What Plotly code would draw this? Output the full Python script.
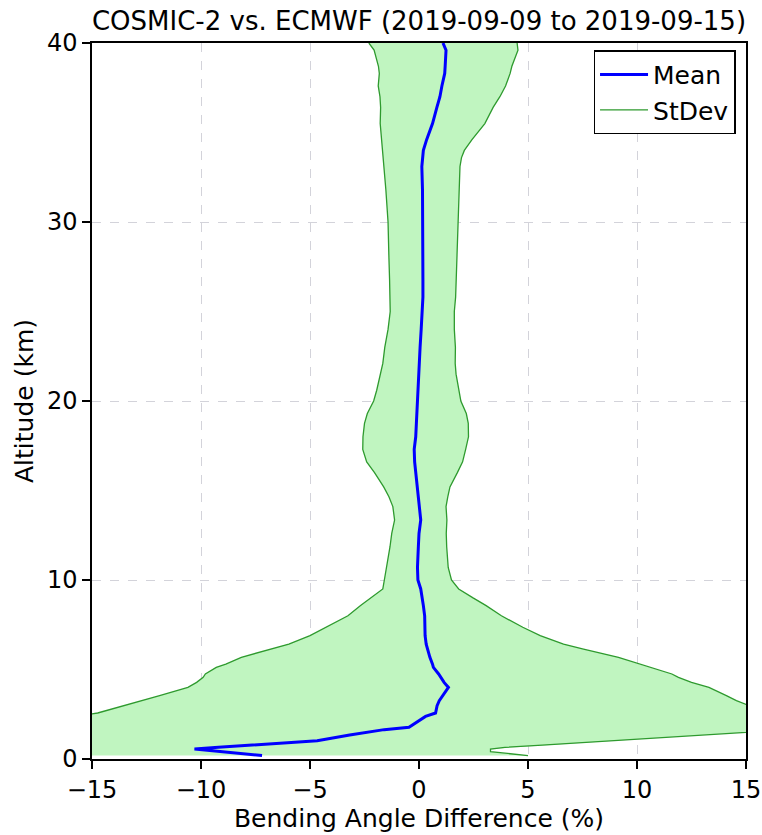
import plotly.graph_objects as go

# Altitude levels (km)
altitude = [0.19, 0.41, 0.56, 0.65, 0.78, 1.02, 1.34, 1.49, 1.64, 1.77,
            2.05, 2.38, 2.57, 2.98, 3.26, 3.54, 4.0, 4.28, 4.56, 4.75,
            5.12, 5.3, 5.68, 6.15, 6.42, 6.89, 7.36, 8.0, 8.57, 9.0,
            9.5, 10.0, 10.7, 11.86, 12.6, 13.35, 14.1, 14.65, 15.2, 16.0,
            16.6, 17.3, 18.0, 18.75, 19.3, 20.0, 20.6, 21.5, 22.1,
            23.0, 24.0, 25.0, 25.8, 26.8, 28.0, 30.0, 31.8, 33.1, 33.6,
            34.0, 34.6, 35.5, 36.4, 37.0, 37.6, 38.3, 38.7, 39.6, 40.0]

# Mean bending angle difference (%)
mean_diff = [-7.2, -9.0, -10.3, -9.2, -7.55, -4.67, -3.18, -2.4, -1.6, -0.46,
             -0.1, 0.3, 0.76, 0.83, 0.93, 1.1, 1.35, 1.15, 1.0, 0.9,
             0.66, 0.62, 0.5, 0.37, 0.33, 0.28, 0.26, 0.26, 0.2, 0.14,
             0.08, -0.05, -0.07, -0.03, 0.0, 0.08, 0.02, -0.03, -0.1, -0.14,
             -0.2, -0.22, -0.15, -0.12, -0.1, -0.08, -0.06, -0.03, 0.0,
             0.05, 0.1, 0.15, 0.18, 0.18, 0.18, 0.18, 0.16, 0.13, 0.15,
             0.2, 0.35, 0.62, 0.82, 0.96, 1.05, 1.18, 1.2, 1.24, 1.1]

# Standard deviation of the difference (%)
std_diff = [12.2, 12.28, 13.58, 13.14, 13.2, 13.48, 16.2, 17.4, 17.5, 17.2,
            16.7, 16.1, 15.5, 14.33, 13.63, 13.0, 11.95, 11.35, 10.9, 10.7,
            9.96, 9.48, 8.65, 7.13, 6.3, 5.28, 4.5, 3.52, 2.88, 2.34,
            1.74, 1.54, 1.41, 1.3, 1.25, 1.2, 1.22, 1.35, 1.52, 1.9,
            2.2, 2.36, 2.42, 2.38, 2.27, 2.0, 1.88, 1.73, 1.66,
            1.62, 1.52, 1.47, 1.5, 1.53, 1.56, 1.6, 1.68, 1.75, 1.8,
            1.88, 2.08, 2.4, 2.58, 2.75, 2.92, 3.0, 3.06, 3.3, 3.4]

x_ticks = [-15, -10, -5, 0, 5, 10, 15]
y_ticks = [0, 10, 20, 30, 40]
x_tick_text = ["\u221215", "\u221210", "\u22125", "0", "5", "10", "15"]

lower = [m - s for m, s in zip(mean_diff, std_diff)]
upper = [m + s for m, s in zip(mean_diff, std_diff)]

FILL = "#c0f5c0"
EDGE = "#2e9a2e"
FONT = "DejaVu Sans"

fig = go.Figure()

# shaded +/- 1 std band as a closed polygon
fig.add_trace(go.Scatter(
    x=lower + upper[::-1], y=altitude + altitude[::-1],
    fill="toself", fillcolor=FILL, line=dict(width=0),
    mode="lines", hoverinfo="skip", showlegend=False))

# band edges
fig.add_trace(go.Scatter(
    x=upper, y=altitude, mode="lines",
    line=dict(color=EDGE, width=1.3), showlegend=False, legendgroup="sd"))
fig.add_trace(go.Scatter(
    x=lower, y=altitude, mode="lines", legendrank=2,
    line=dict(color=EDGE, width=1.3), name="StDev", legendgroup="sd"))

# mean profile
fig.add_trace(go.Scatter(
    x=mean_diff, y=altitude, mode="lines", legendrank=1,
    line=dict(color="#0000ff", width=3), name="Mean"))

axis_common = dict(
    showline=True, linecolor="black", linewidth=1.5, mirror=True,
    ticks="outside", ticklen=8, tickwidth=1.5, tickcolor="black",
    showgrid=True, gridcolor="#d3d3da", griddash="dash", gridwidth=1.3,
    zeroline=False, automargin=False,
    tickfont=dict(family=FONT, size=24, color="black"),
)

fig.update_layout(
    width=762, height=835,
    margin=dict(l=92, r=16, t=43, b=76),
    paper_bgcolor="white", plot_bgcolor="white",
    font=dict(family=FONT, color="black"),
    title=dict(text="COSMIC-2 vs. ECMWF (2019-09-09 to 2019-09-15)",
               font=dict(family=FONT, size=26, color="black"),
               x=0.5, xanchor="center", xref="paper",
               y=1 - 21 / 835, yanchor="middle", yref="container"),
    xaxis=dict(range=[-15, 15], tickvals=x_ticks, ticktext=x_tick_text,
               title=dict(text="Bending Angle Difference (%)",
                          font=dict(family=FONT, size=25), standoff=4),
               **axis_common),
    yaxis=dict(range=[0, 40], tickvals=y_ticks,
               title=dict(text="Altitude (km)",
                          font=dict(family=FONT, size=25), standoff=6),
               **axis_common),
    legend=dict(x=0.984, y=0.99, xanchor="right", yanchor="top",
                bgcolor="white", bordercolor="black", borderwidth=1.5,
                font=dict(family=FONT, size=25, color="black"),
                itemwidth=48, tracegroupgap=0),
    showlegend=True,
)

fig.write_html("out.html")
